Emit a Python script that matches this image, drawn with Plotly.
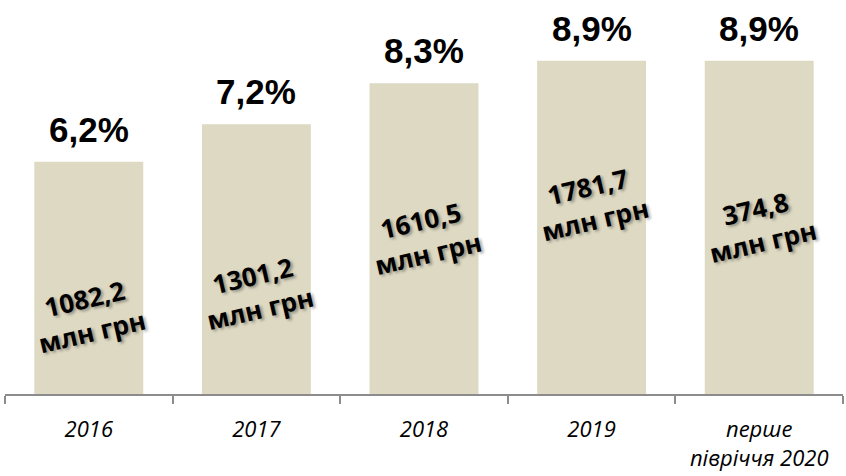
import plotly.graph_objects as go

categories = ["2016", "2017", "2018", "2019", "перше<br>півріччя 2020"]
share_pct = [6.2, 7.2, 8.3, 8.9, 8.9]
share_labels = ["6,2%", "7,2%", "8,3%", "8,9%", "8,9%"]
amount_labels = ["1082,2", "1301,2", "1610,5", "1781,7", "374,8"]
# where the rotated amount labels sit inside each bar (axis units)
amount_label_y = [2.1, 2.72, 4.19, 5.1, 4.5]

fig = go.Figure(go.Bar(x=categories, y=share_pct, marker_color="#DDD9C3",
                       marker_line_width=0, hoverinfo="skip"))

# annotations use category index, since "2016" would be read as a number
for i, (val, lab) in enumerate(zip(share_pct, share_labels)):
    fig.add_annotation(x=i, y=val, text="<b>" + lab + "</b>", showarrow=False,
                       yanchor="bottom", yshift=11,
                       font=dict(family="Liberation Sans, Arial", size=35,
                                 color="black"))

for i, (ly, lab) in enumerate(zip(amount_label_y, amount_labels)):
    fig.add_annotation(x=i, y=ly, text="<b>" + lab + "<br>млн грн</b>", showarrow=False,
                       textangle=-13, align="center",
                       font=dict(family="Open Sans, Lato, sans-serif", size=26, color="black",
                                 weight=800,
                                 shadow="2px 2px 3px rgba(0,0,0,0.35)"))

fig.update_layout(
    template="none",
    width=846, height=476,
    margin=dict(l=5, r=3, t=0, b=82, pad=0),
    paper_bgcolor="white", plot_bgcolor="white",
    bargap=0.35, showlegend=False,
    xaxis=dict(type="category", range=[-0.5, 4.5], automargin=False, showline=True,
               linecolor="#8c8c8c", linewidth=2, ticks="outside", tickson="boundaries",
               ticklen=8, tickcolor="#8c8c8c", tickwidth=2, tickangle=0,
               ticklabelstandoff=15,
               tickfont=dict(family="Open Sans, Lato, sans-serif", size=22, color="black",
                             style="italic"),
               showgrid=False, zeroline=False),
    yaxis=dict(range=[0, 10.52], visible=False, showgrid=False, automargin=False,
               zeroline=False),
)

# page body has an 8px default margin; drop it so the chart fills the window
fig.write_html("out.html", config={"displayModeBar": False},
               post_script="document.body.style.margin='0';")
